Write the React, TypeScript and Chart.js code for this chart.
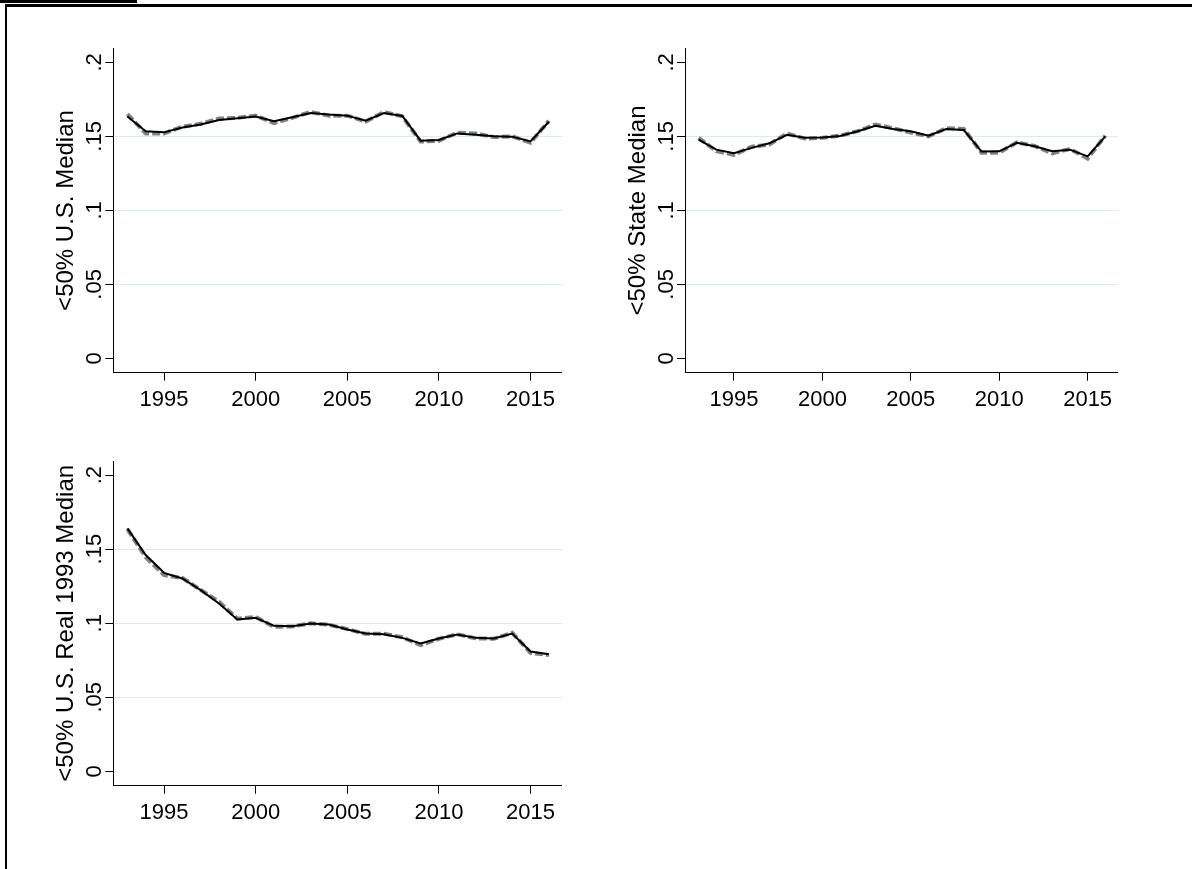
import React, { useEffect, useRef } from "react";
import { Chart, registerables } from "chart.js";

Chart.register(...registerables);

const YEARS = [
  1993, 1994, 1995, 1996, 1997, 1998, 1999, 2000, 2001, 2002, 2003, 2004,
  2005, 2006, 2007, 2008, 2009, 2010, 2011, 2012, 2013, 2014, 2015, 2016,
];

// Panel 1: <50% U.S. Median
const US_MEDIAN_SOLID = [
  0.1634, 0.1534, 0.1527, 0.156, 0.158, 0.1611, 0.1622, 0.1634, 0.1602, 0.1629,
  0.1658, 0.1647, 0.164, 0.1606, 0.1658, 0.1638, 0.1471, 0.1476, 0.152, 0.1511,
  0.15, 0.1498, 0.1466, 0.1599,
];
const US_MEDIAN_DASHED = [
  0.165, 0.152, 0.152, 0.1565, 0.1585, 0.162, 0.1625, 0.164, 0.159, 0.1625,
  0.1665, 0.164, 0.164, 0.16, 0.1665, 0.1635, 0.1465, 0.147, 0.1525, 0.152,
  0.1495, 0.15, 0.1458, 0.1605,
];

// Panel 2: <50% State Median
const STATE_MEDIAN_SOLID = [
  0.1478, 0.141, 0.1386, 0.1422, 0.1453, 0.151, 0.149, 0.1493, 0.1503, 0.1534,
  0.1572, 0.155, 0.1534, 0.1505, 0.155, 0.1543, 0.1397, 0.1399, 0.1456, 0.1433,
  0.1399, 0.141, 0.1365, 0.15,
];
const STATE_MEDIAN_DASHED = [
  0.149, 0.14, 0.1375, 0.143, 0.1445, 0.152, 0.1485, 0.149, 0.1505, 0.1535,
  0.158, 0.1555, 0.1525, 0.15, 0.1555, 0.155, 0.139, 0.139, 0.146, 0.1435,
  0.1385, 0.1415, 0.135, 0.1505,
];

// Panel 3: <50% U.S. Real 1993 Median
const REAL_MEDIAN_SOLID = [
  0.164, 0.146, 0.134, 0.1302, 0.1223, 0.1133, 0.1025, 0.1036, 0.0982, 0.098,
  0.0998, 0.0991, 0.0957, 0.093, 0.0926, 0.0901, 0.0863, 0.0897, 0.0924, 0.0901,
  0.0897, 0.093, 0.0809, 0.079,
];
const REAL_MEDIAN_DASHED = [
  0.1635, 0.1445, 0.1325, 0.1305, 0.1225, 0.1145, 0.103, 0.1042, 0.0975, 0.0978,
  0.1, 0.099, 0.096, 0.0928, 0.0928, 0.0905, 0.0852, 0.0895, 0.0925, 0.0898,
  0.0895, 0.0935, 0.08, 0.0785,
];

const X_TICKS = [1995, 2000, 2005, 2010, 2015];
const Y_TICKS = [0, 0.05, 0.1, 0.15, 0.2];
const GRID_VALUES = [0.05, 0.1, 0.15];

const FONT_FAMILY = "'Liberation Sans', Arial, Helvetica, sans-serif";

type PanelProps = {
  title: string;
  solid: number[];
  dashed: number[];
  left: number;
  top: number;
  width: number;
  height: number;
  areaLeft: number;
  areaRight: number;
  areaTop: number;
  areaBottom: number;
};

function fmtY(v: number): string {
  if (v === 0) return "0";
  return String(v).replace(/^0/, "");
}

function Panel(props: PanelProps) {
  const ref = useRef<HTMLCanvasElement | null>(null);
  const { title, solid, dashed, left, top, width, height, areaLeft, areaRight, areaTop, areaBottom } = props;

  useEffect(() => {
    if (!ref.current) return;
    const yAxisWidth = areaLeft - left;
    const padRight = left + width - areaRight;
    const padTop = areaTop - top;
    const xAxisHeight = top + height - areaBottom;

    const chart = new Chart(ref.current, {
      type: "line",
      data: {
        datasets: [
          {
            label: "solid",
            data: YEARS.map((x, i) => ({ x, y: solid[i] })),
            borderColor: "#000000",
            borderWidth: 2,
            pointRadius: 0,
            tension: 0,
            order: 0,
          },
          {
            label: "dashed",
            data: YEARS.map((x, i) => ({ x, y: dashed[i] })),
            borderColor: "#828282",
            borderWidth: 4,
            borderDash: [8, 3],
            pointRadius: 0,
            tension: 0,
            order: 1,
          },
        ],
      },
      options: {
        responsive: false,
        animation: false,
        events: [],
        layout: { padding: { left: 0, right: padRight, top: padTop, bottom: 0 } },
        plugins: { legend: { display: false }, tooltip: { enabled: false } },
        scales: {
          x: {
            type: "linear",
            min: 1992.23,
            max: 2016.7,
            afterBuildTicks: (s: any) => {
              s.ticks = X_TICKS.map((v) => ({ value: v }));
            },
            afterFit: (s: any) => {
              s.height = xAxisHeight;
            },
            grid: {
              drawOnChartArea: false,
              drawTicks: true,
              tickLength: 8,
              tickColor: "#000000",
              color: "#000000",
            },
            border: { display: true, color: "#000000", width: 1 },
            ticks: {
              font: { size: 22, family: FONT_FAMILY },
              color: "#000000",
              padding: 6,
              minRotation: 0,
              maxRotation: 0,
              autoSkip: false,
              callback: (v: any) => String(v),
            },
          },
          y: {
            type: "linear",
            min: -0.0097,
            max: 0.2095,
            afterBuildTicks: (s: any) => {
              s.ticks = Y_TICKS.map((v) => ({ value: v }));
            },
            afterFit: (s: any) => {
              s.width = yAxisWidth;
            },
            grid: {
              color: (ctx: any) =>
                ctx.tick && GRID_VALUES.includes(ctx.tick.value) ? "#e1eaeb" : "rgba(0,0,0,0)",
              tickColor: "#000000",
              tickLength: 8,
              lineWidth: 1,
            },
            border: { display: true, color: "#000000", width: 1 },
            ticks: {
              font: { size: 22, family: FONT_FAMILY },
              color: "#000000",
              minRotation: 90,
              maxRotation: 90,
              crossAlign: "center",
              padding: -5,
              autoSkip: false,
              callback: (v: any) => fmtY(Number(v)),
            },
            title: {
              display: true,
              text: title,
              font: { size: 24, family: FONT_FAMILY },
              color: "#000000",
              padding: { top: 12, bottom: 0 },
            },
          },
        },
      },
    } as any);
    return () => chart.destroy();
  }, []);

  return (
    <canvas
      ref={ref}
      width={width}
      height={height}
      style={{ position: "absolute", left, top, width, height }}
    />
  );
}

export default function App() {
  return (
    <div
      style={{
        position: "absolute",
        left: 0,
        top: 0,
        width: 1192,
        height: 869,
        background: "#ffffff",
        overflow: "hidden",
        fontFamily: FONT_FAMILY,
      }}
    >
      <div style={{ position: "absolute", left: 0, top: 0, width: 137, height: 3, background: "#000" }} />
      <div style={{ position: "absolute", left: 5, top: 4, width: 1187, height: 3, background: "#000" }} />
      <div style={{ position: "absolute", left: 5, top: 4, width: 2, height: 865, background: "#000" }} />
      <Panel
        title="<50% U.S. Median"
        solid={US_MEDIAN_SOLID}
        dashed={US_MEDIAN_DASHED}
        left={40}
        top={20}
        width={540}
        height={420}
        areaLeft={113.3}
        areaRight={561.7}
        areaTop={48.3}
        areaBottom={372.7}
      />
      <Panel
        title="<50% State Median"
        solid={STATE_MEDIAN_SOLID}
        dashed={STATE_MEDIAN_DASHED}
        left={612}
        top={20}
        width={540}
        height={420}
        areaLeft={685}
        areaRight={1117.7}
        areaTop={48.3}
        areaBottom={372.7}
      />
      <Panel
        title="<50% U.S. Real 1993 Median"
        solid={REAL_MEDIAN_SOLID}
        dashed={REAL_MEDIAN_DASHED}
        left={40}
        top={440}
        width={540}
        height={420}
        areaLeft={113.3}
        areaRight={561.7}
        areaTop={461}
        areaBottom={785.7}
      />
    </div>
  );
}
